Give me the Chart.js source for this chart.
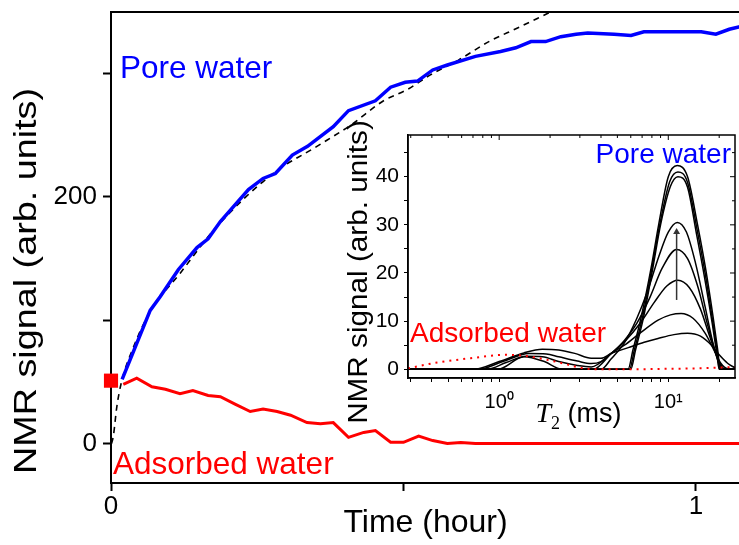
<!DOCTYPE html>
<html>
<head>
<meta charset="utf-8">
<script src="https://cdn.jsdelivr.net/npm/chart.js@4.4.0/dist/chart.umd.min.js"></script>
<style>
  html, body { margin: 0; padding: 0; background: #fff; }
  #wrap { position: relative; width: 739px; height: 545px; overflow: hidden; }
  #mainChart { position: absolute; left: 0; top: 0; }
  #insetChart { position: absolute; left: 340px; top: 118px; }
</style>
</head>
<body>
<div id="wrap">
  <canvas id="mainChart" width="750" height="545"></canvas>
  <canvas id="insetChart" width="399" height="312"></canvas>
</div>
<script>
// ---- main panel: signal vs time ----
const poreTime = [0.019,0.067,0.084,0.115,0.147,0.166,0.187,0.209,0.235,0.260,0.281,0.310,0.336,0.380,0.406,0.452,0.478,0.503,0.524,0.550,0.575,0.623,0.666,0.692,0.718,0.743,0.769,0.795,0.815,0.860,0.889,0.911,0.961,1.009,1.034,1.057,1.075];
const poreSignal = [52,108,119,141,159,166,180,192,206,215,219,234,241,257,270,278,289,293,294,303,307,314,318,321,326,326,330,332,333,332,331,334,334,334,332,336,338];

const adsTime = [0.021,0.044,0.070,0.093,0.118,0.140,0.166,0.187,0.212,0.238,0.260,0.284,0.307,0.335,0.358,0.380,0.406,0.432,0.452,0.478,0.500,0.526,0.550,0.575,0.598,0.623,0.65,0.7,0.8,0.9,1.0,1.075];
const adsSignal = [48,53,46,44,40.5,43,39,38,32,26,28,26,23,17,16,17,5,9,10.5,1,1,6,2.4,0,0.8,0,0,0,0,0,0,0];

const fitTime = [0.001,0.004,0.010,0.018,0.040,0.067,0.118,0.181,0.277,0.352,0.409,0.466,0.506,0.546,0.594,0.646,0.695,0.747,0.76];
const fitSignal = [0,6,30,50,80,107,138,176,219,241,258,278,287,299,311,326,337,349,352];

const startTime = [0];
const startSignal = [51];

const timeTicks = [0, 0.5, 1];
const timeTickLabels = ['0', '', '1'];
const signalTicks = [0, 100, 200, 300];
const signalTickLabels = ['0', '', '200', ''];

// ---- inset: T2 distributions ----
const t2Ads = [0.289,0.43,0.68,1.07,1.4,1.84,2.4,3.15,4,6,10,15,20,24.8];
const sigAds = [0.2,1.4,2.3,3.0,2.8,2.1,1.2,0.2,0,0,0.1,0.2,0.35,0.5];

const t2H = [0.289,0.71,1.0,1.4,1.8,2.25,2.8,3.5,4.0,4.6,5.8,7.2,8.7,10.8,13,15.5,18,20,22.5,24.8];
const sigH = [0,0,1.6,3.4,4.15,4.0,3.3,2.3,2.3,3.3,4.5,5.6,6.4,7.2,7.5,6.9,5,3,1.2,0.3];

const t2G = [0.289,0.75,1.05,1.5,1.9,2.25,2.9,3.5,4.0,4.6,5.5,6.8,8.7,10.3,11.9,14,16.5,18.5,20.5,22.5,24.8];
const sigG = [0,0,1.6,3.3,3.2,2.6,1.7,1.2,1.6,3.3,5,7.5,10.2,11.3,11.6,10.6,7.5,4.2,1.2,0.1,0];

const t2F = [0.289,0.85,1.1,1.45,1.8,2.25,2.9,3.5,4.6,5.6,6.8,8.3,9.8,11.4,13.3,15.5,17.5,19.5,21,22,24.8];
const sigF = [0,0,1.4,2.7,2.6,1.6,0.8,0.5,3.3,6,9.5,14,17.3,18.5,17,12.5,7,2.5,0.3,0,0];

const t2E = [0.289,3.6,4.6,5.5,6.5,7.8,9.2,11.2,13,15,17,19,20.5,21.2,24.8];
const sigE = [0,0,3.3,6,9.5,15,21,24.9,23,17,9.5,3.5,0.5,0,0];

const t2D = [0.289,4.0,4.6,5.5,6.5,7.5,8.8,10,11.3,12.8,14.5,16.5,18.5,20.3,21,24.8];
const sigD = [0,0,2.2,5.5,10.5,16,23.5,28.5,30.5,28.5,22,13,5,0.5,0,0];

const t2C = [0.289,6.0,6.4,7.15,8.1,9.0,10.3,11.4,13.0,14.7,16.4,18.2,19.4,20.0,24.8];
const sigC = [0,0,4,10.9,21,30,38,40,37.8,28,19,9.5,3,0,0];

const t2B = [0.289,5.9,6.3,7.05,8.0,8.9,10.2,11.4,13.0,14.8,16.5,18.3,19.5,20.1,24.8];
const sigB = [0,0,4,10.9,21,30,39,41,38.8,29,20,10,3.5,0,0];

const t2A = [0.289,0.98,1.4,1.85,2.35,5.78,6.18,6.92,7.91,8.77,10.0,11.3,13.0,14.9,16.6,18.4,19.6,20.3,24.8];
const sigA = [0,0,2.6,1.6,0,0,4,10.9,21,30,40,42.3,40,30,21,10.9,4,0,0];

const arrowT2 = [11.2, 11.2];
const arrowSignal = [14.4, 28.5];

const t2Ticks = [0.3,0.4,0.5,0.6,0.7,0.8,0.9,1,2,3,4,5,6,7,8,9,10,20];
const t2TickLabels = {1: '10\u2070', 10: '10\u00B9'};
const insetTicks = [0,5,10,15,20,25,30,35,40,45];
const insetTickLabels = ['0','','10','','20','','30','','40',''];

const ff = '"Liberation Sans", Arial, Helvetica, sans-serif';
const zip = (xs, ys) => xs.map((x, i) => ({x: x, y: ys[i]}));

// 去掉 Chart.js 为端点标签预留的边距
const noEdgePad = s => { s.paddingLeft = 0; s.paddingRight = 0; s.paddingTop = 0; s.paddingBottom = 0; };

// 竖排标题（文字方向略拉长，贴近原图）
function drawVTitle(ctx, text, x, y, size, stretch) {
  ctx.save();
  ctx.translate(x, y);
  ctx.rotate(-Math.PI / 2);
  ctx.scale(stretch, 1);
  ctx.font = size + 'px ' + ff;
  ctx.fillStyle = '#000';
  ctx.textAlign = 'center';
  ctx.textBaseline = 'middle';
  ctx.fillText(text, 0, 0);
  ctx.restore();
}

// 主图上的文字和上边框
const mainLabels = {
  id: 'mainLabels',
  afterDraw(chart) {
    const {ctx, chartArea: a} = chart;
    ctx.save();
    ctx.strokeStyle = '#000';
    ctx.lineWidth = 2;
    ctx.beginPath();
    ctx.moveTo(a.left, a.top);
    ctx.lineTo(a.right, a.top);
    ctx.stroke();
    ctx.font = '31.5px ' + ff;
    ctx.textBaseline = 'alphabetic';
    ctx.fillStyle = '#0000ff';
    ctx.fillText('Pore water', a.left + 9, a.top + 66);
    ctx.fillStyle = '#ff0000';
    ctx.fillText('Adsorbed water', a.left + 2, a.bottom - 9);
    ctx.restore();
    drawVTitle(ctx, 'NMR signal (arb. units)', 27, 281, 32, 1.18);
  }
};

new Chart(document.getElementById('mainChart'), {
  type: 'line',
  data: {
    datasets: [
      {
        label: 'start',
        data: zip(startTime, startSignal),
        showLine: false,
        pointStyle: 'rect',
        pointRadius: 10,
        backgroundColor: '#ff0000',
        borderColor: '#ff0000',
        borderWidth: 0,
        clip: false
      },
      {
        label: 'Pore water',
        data: zip(poreTime, poreSignal),
        borderColor: '#0000ff',
        borderWidth: 3.5,
        pointRadius: 0
      },
      {
        label: 'Adsorbed water',
        data: zip(adsTime, adsSignal),
        borderColor: '#ff0000',
        borderWidth: 3,
        pointRadius: 0
      },
      {
        label: 'fit',
        data: zip(fitTime, fitSignal),
        borderColor: '#000',
        borderWidth: 1.6,
        borderDash: [6, 5],
        pointRadius: 0,
        cubicInterpolationMode: 'monotone'
      }
    ]
  },
  options: {
    responsive: false,
    animation: false,
    devicePixelRatio: 1,
    layout: {padding: {top: 12, right: 0, bottom: 0, left: 0}},
    plugins: {legend: {display: false}, tooltip: {enabled: false}},
    scales: {
      x: {
        type: 'linear',
        min: 0,
        max: 1.0753,
        afterFit(s) { s.height = 62; noEdgePad(s); },
        afterBuildTicks(s) { s.ticks = timeTicks.map(v => ({value: v})); },
        ticks: {
          callback: (v, i) => timeTickLabels[i],
          font: {family: ff, size: 26},
          color: '#000',
          padding: 0,
          autoSkip: false,
          maxRotation: 0
        },
        grid: {drawOnChartArea: false, drawTicks: true, tickLength: 8, tickWidth: 2, color: '#000'},
        border: {display: true, color: '#000', width: 2},
        title: {
          display: true,
          text: 'Time (hour)',
          color: '#000',
          font: {family: ff, size: 32},
          padding: {top: 0, bottom: 3}
        }
      },
      y: {
        min: -32,
        max: 350,
        afterFit(s) { s.width = 111; noEdgePad(s); },
        afterBuildTicks(s) { s.ticks = signalTicks.map(v => ({value: v})); },
        ticks: {
          callback: (v, i) => signalTickLabels[i],
          font: {family: ff, size: 26},
          color: '#000',
          padding: 6,
          autoSkip: false
        },
        grid: {drawOnChartArea: false, drawTicks: true, tickLength: 8, tickWidth: 2, color: '#000'},
        border: {display: true, color: '#000', width: 2}
      }
    }
  },
  plugins: [mainLabels]
});

// 插图：白底、边框、文字
const insetDecor = {
  id: 'insetDecor',
  beforeDraw(chart) {
    const {ctx, chartArea: a} = chart;
    ctx.save();
    ctx.fillStyle = '#fff';
    ctx.fillRect(a.left, a.top, a.right - a.left, a.bottom - a.top);
    ctx.restore();
  },
  afterDraw(chart) {
    const {ctx, chartArea: a} = chart;
    const xs = chart.scales.x;
    const ys = chart.scales.y;
    ctx.save();
    ctx.strokeStyle = '#000';
    ctx.lineWidth = 1.5;
    ctx.strokeRect(a.left, a.top, a.right - a.left, a.bottom - a.top);

    // 上边和右边的内向刻度
    ctx.lineWidth = 1;
    ctx.beginPath();
    xs.ticks.forEach(t => {
      const px = xs.getPixelForValue(t.value);
      ctx.moveTo(px, a.top);
      ctx.lineTo(px, a.top + (t.major ? 5 : 3));
    });
    ys.ticks.forEach(t => {
      const py = ys.getPixelForValue(t.value);
      ctx.moveTo(a.right, py);
      ctx.lineTo(a.right - (t.value % 10 === 0 ? 5 : 3), py);
    });
    ctx.stroke();

    ctx.textBaseline = 'alphabetic';
    ctx.font = '28px ' + ff;
    ctx.fillStyle = '#0000ff';
    ctx.textAlign = 'right';
    ctx.fillText('Pore water', a.right - 4, a.top + 28);
    ctx.fillStyle = '#ff0000';
    ctx.textAlign = 'left';
    ctx.fillText('Adsorbed water', a.left + 2, a.top + 207);

    // x title: italic T with subscript 2
    ctx.fillStyle = '#000';
    ctx.font = 'italic 28px "Liberation Serif", "Times New Roman", serif';
    const wT = ctx.measureText('T').width;
    ctx.font = '18px "Liberation Serif", "Times New Roman", serif';
    const w2 = ctx.measureText('2').width;
    ctx.font = '27px ' + ff;
    const wR = ctx.measureText(' (ms)').width;
    const x0 = (a.left + a.right) / 2 - (wT + w2 + wR) / 2 + 7;
    const yb = a.bottom + 44;
    ctx.font = 'italic 28px "Liberation Serif", "Times New Roman", serif';
    ctx.fillText('T', x0, yb);
    ctx.font = '18px "Liberation Serif", "Times New Roman", serif';
    ctx.fillText('2', x0 + wT, yb + 7);
    ctx.font = '27px ' + ff;
    ctx.fillText(' (ms)', x0 + wT + w2, yb);
    ctx.restore();
    drawVTitle(ctx, 'NMR signal (arb. units)', 20, 154, 27, 1.1);
  }
};

const curve = (xs, ys) => ({
  data: zip(xs, ys),
  borderColor: '#000',
  borderWidth: 1.5,
  pointRadius: 0,
  cubicInterpolationMode: 'monotone'
});

new Chart(document.getElementById('insetChart'), {
  type: 'line',
  data: {
    datasets: [
      {
        label: 'arrow',
        data: zip(arrowT2, arrowSignal),
        borderColor: '#333',
        backgroundColor: '#333',
        borderWidth: 1.5,
        pointStyle: 'triangle',
        pointRadius: [0, 4],
        pointBorderWidth: 0
      },
      {
        label: 'adsorbed',
        data: zip(t2Ads, sigAds),
        borderColor: '#ff0000',
        borderWidth: 2,
        borderDash: [2, 5],
        pointRadius: 0,
        cubicInterpolationMode: 'monotone'
      },
      curve(t2A, sigA),
      curve(t2B, sigB),
      curve(t2C, sigC),
      curve(t2D, sigD),
      curve(t2E, sigE),
      curve(t2F, sigF),
      curve(t2G, sigG),
      curve(t2H, sigH)
    ]
  },
  options: {
    responsive: false,
    animation: false,
    devicePixelRatio: 1,
    layout: {padding: {top: 17, right: 1, bottom: 0, left: 0}},
    plugins: {legend: {display: false}, tooltip: {enabled: false}},
    scales: {
      x: {
        type: 'logarithmic',
        min: 0.289,
        max: 24.8,
        afterFit(s) { s.height = 52; noEdgePad(s); },
        afterBuildTicks(s) { s.ticks = t2Ticks.map(v => ({value: v, major: v === 1 || v === 10})); },
        ticks: {
          callback: v => t2TickLabels[v] || '',
          font: {family: ff, size: 20},
          color: '#000',
          padding: 8,
          autoSkip: false,
          maxRotation: 0
        },
        grid: {drawOnChartArea: false, drawTicks: true, tickLength: 4, tickWidth: 1, color: '#000'},
        border: {display: true, color: '#000', width: 1.5}
      },
      y: {
        min: -1.81,
        max: 48.66,
        afterFit(s) { s.width = 68; noEdgePad(s); },
        afterBuildTicks(s) { s.ticks = insetTicks.map(v => ({value: v})); },
        ticks: {
          callback: (v, i) => insetTickLabels[i],
          font: {family: ff, size: 21},
          color: '#000',
          padding: 5,
          autoSkip: false
        },
        grid: {drawOnChartArea: false, drawTicks: true, tickLength: 4, tickWidth: 1, color: '#000'},
        border: {display: true, color: '#000', width: 1.5}
      }
    }
  },
  plugins: [insetDecor]
});
</script>
</body>
</html>
